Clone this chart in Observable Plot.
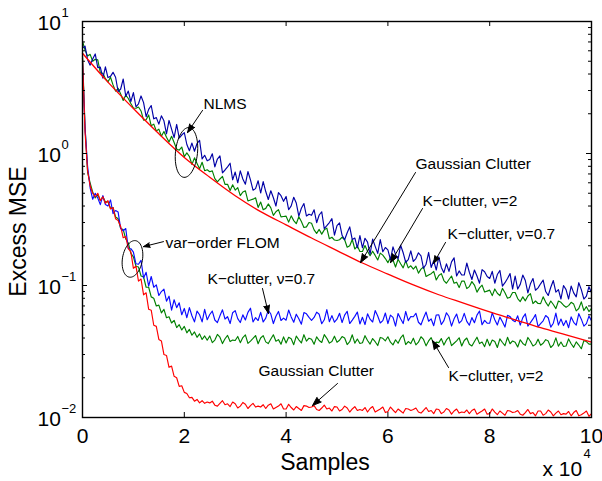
<!DOCTYPE html>
<html>
<head>
<meta charset="utf-8">
<script src="https://cdn.jsdelivr.net/npm/d3@7"></script>
<script src="https://cdn.jsdelivr.net/npm/@observablehq/plot@0.6"></script>
<style>
  html, body { margin: 0; padding: 0; background: #fff; }
  #chart svg { display: block; }
</style>
</head>
<body>
<div id="chart"></div>
<script>
// ---------- data (x in units of 10^4 samples, y = excess MSE) ----------
const sampleStep = 0.05;      // spacing of the noisy learning curves
const smoothStep = 0.5;       // spacing of the smooth NLMS Gaussian curve

const nlmsGaussian = [5.75, 3.47, 2.19, 1.41, 0.933, 0.661, 0.479, 0.363, 0.288, 0.229, 0.184,
  0.148, 0.122, 0.101, 0.0851, 0.0733, 0.0631, 0.0550, 0.0479, 0.0422, 0.0372];

const nlmsK07 = [
  6.3, 6.51, 5.14, 4.67, 5.2, 5.68, 4.47, 4.51, 3.72, 4.53,
  3.76, 3.84, 4.12, 3.78, 2.94, 3.08, 3.67, 2.71, 2.97, 2.47,
  2.89, 2.26, 2.38, 2.73, 2.43, 1.9, 2.16, 2.31, 1.83, 1.87,
  1.67, 1.93, 1.77, 1.41, 1.78, 1.53, 1.32, 1.66, 1.31, 1.38,
  1.44, 1.17, 1.05, 1.2, 1.04, 1.19, 1.26, 0.91, 0.97, 0.88,
  0.902, 0.996, 0.792, 0.908, 0.959, 0.714, 0.75, 0.791, 0.844, 0.632,
  0.724, 0.6, 0.739, 0.641, 0.585, 0.73, 0.632, 0.527, 0.542, 0.622,
  0.502, 0.612, 0.515, 0.448, 0.522, 0.462, 0.4, 0.505, 0.479, 0.434,
  0.473, 0.375, 0.401, 0.466, 0.421, 0.335, 0.385, 0.418, 0.336, 0.347,
  0.34, 0.375, 0.299, 0.342, 0.362, 0.27, 0.284, 0.3, 0.321, 0.241,
  0.284, 0.298, 0.24, 0.222, 0.251, 0.278, 0.223, 0.229, 0.193, 0.239,
  0.193, 0.228, 0.213, 0.173, 0.225, 0.198, 0.175, 0.223, 0.18, 0.194,
  0.186, 0.157, 0.196, 0.172, 0.159, 0.202, 0.177, 0.15, 0.157, 0.183,
  0.152, 0.16, 0.177, 0.168, 0.135, 0.145, 0.178, 0.137, 0.154, 0.131,
  0.165, 0.137, 0.125, 0.146, 0.128, 0.151, 0.162, 0.118, 0.129, 0.12,
  0.12, 0.148, 0.126, 0.111, 0.131, 0.118, 0.104, 0.132, 0.127, 0.117,
  0.113, 0.128, 0.104, 0.121, 0.13, 0.099, 0.105, 0.113, 0.123, 0.094,
  0.118, 0.094, 0.102, 0.12, 0.109, 0.088, 0.103, 0.113, 0.092, 0.096,
  0.103, 0.11, 0.09, 0.084, 0.097, 0.109, 0.089, 0.093, 0.079, 0.1,
  0.093, 0.079, 0.099, 0.088, 0.082, 0.105, 0.093, 0.079, 0.083, 0.098,
  0.088];

const nlmsK2 = [
  7.11, 6.08, 5.47, 5.64, 5.0, 5.17, 5.12, 4.09, 4.05, 3.69,
  3.49, 3.78, 3.31, 2.97, 3.12, 2.82, 2.52, 2.77, 2.61, 2.39,
  2.21, 2.2, 2.25, 2.1, 1.79, 1.8, 1.96, 1.62, 1.67, 1.48,
  1.53, 1.35, 1.47, 1.33, 1.22, 1.35, 1.21, 1.08, 1.06, 1.12,
  0.945, 1.01, 0.949, 0.826, 0.927, 0.841, 0.767, 0.858, 0.741, 0.753,
  0.728, 0.739, 0.645, 0.609, 0.641, 0.671, 0.584, 0.584, 0.524, 0.58,
  0.528, 0.551, 0.48, 0.511, 0.521, 0.437, 0.444, 0.451, 0.462, 0.39,
  0.429, 0.375, 0.384, 0.415, 0.387, 0.34, 0.362, 0.376, 0.331, 0.333,
  0.335, 0.302, 0.337, 0.31, 0.294, 0.332, 0.305, 0.275, 0.278, 0.3,
  0.296, 0.264, 0.248, 0.266, 0.245, 0.264, 0.272, 0.226, 0.232, 0.221,
  0.219, 0.222, 0.232, 0.222, 0.195, 0.2, 0.223, 0.189, 0.199, 0.181,
  0.181, 0.201, 0.182, 0.168, 0.182, 0.169, 0.156, 0.176, 0.17, 0.16,
  0.149, 0.162, 0.156, 0.138, 0.158, 0.146, 0.136, 0.154, 0.136, 0.141,
  0.133, 0.14, 0.124, 0.133, 0.138, 0.117, 0.12, 0.123, 0.128, 0.11,
  0.119, 0.123, 0.109, 0.104, 0.111, 0.118, 0.104, 0.106, 0.0964, 0.108,
  0.108, 0.0948, 0.0981, 0.107, 0.1008, 0.0891, 0.096, 0.1006, 0.0893, 0.0907,
  0.0922, 0.0838, 0.0942, 0.0874, 0.0837, 0.0952, 0.0881, 0.0801, 0.0816, 0.0885,
  0.0885, 0.0797, 0.0756, 0.082, 0.0765, 0.0833, 0.0869, 0.073, 0.0763, 0.0731,
  0.0729, 0.082, 0.0749, 0.0699, 0.0763, 0.0718, 0.0668, 0.0763, 0.0746, 0.0709,
  0.0685, 0.0704, 0.0746, 0.0723, 0.0642, 0.0669, 0.0752, 0.0646, 0.0691, 0.0635,
  0.067];

const flomGaussian = [
  5.3, 1.45, 0.74, 0.57, 0.5, 0.47, 0.5, 0.44, 0.47, 0.42,
  0.44, 0.38, 0.39, 0.32, 0.31, 0.28, 0.23, 0.235, 0.19, 0.18,
  0.135, 0.14, 0.108, 0.112, 0.085, 0.088, 0.066, 0.065, 0.05, 0.049,
  0.039, 0.038, 0.03, 0.0295, 0.024, 0.0245, 0.0205, 0.02, 0.0172, 0.0174,
  0.0155, 0.0152, 0.0141, 0.0142, 0.0133, 0.0137, 0.0129, 0.0134, 0.0128, 0.0131,
  0.0129, 0.0133, 0.0124, 0.0122, 0.0128, 0.0134, 0.0125, 0.0127, 0.0121, 0.0131,
  0.0127, 0.0118, 0.0122, 0.013, 0.0126, 0.0117, 0.0123, 0.0128, 0.012, 0.0122,
  0.012, 0.0125, 0.0117, 0.0124, 0.0127, 0.0116, 0.0119, 0.0122, 0.0127, 0.0116,
  0.0116, 0.0126, 0.0119, 0.0114, 0.0121, 0.0117, 0.0113, 0.0123, 0.0122, 0.0119,
  0.012, 0.0123, 0.0115, 0.0113, 0.0118, 0.0124, 0.0116, 0.0118, 0.0112, 0.0121,
  0.012, 0.0112, 0.0115, 0.0122, 0.0118, 0.011, 0.0116, 0.0121, 0.0113, 0.0115,
  0.0113, 0.0119, 0.011, 0.0117, 0.0121, 0.011, 0.0113, 0.0116, 0.012, 0.0109,
  0.0111, 0.012, 0.0114, 0.0109, 0.0116, 0.0112, 0.0108, 0.0117, 0.0116, 0.0113,
  0.0115, 0.0118, 0.011, 0.0108, 0.0113, 0.0119, 0.0111, 0.0113, 0.0107, 0.0116,
  0.0115, 0.0107, 0.011, 0.0117, 0.0114, 0.0106, 0.0112, 0.0116, 0.0108, 0.011,
  0.0109, 0.0114, 0.0107, 0.0113, 0.0116, 0.0106, 0.0109, 0.0112, 0.0116, 0.0106,
  0.0107, 0.0116, 0.011, 0.0105, 0.0112, 0.0108, 0.0104, 0.0113, 0.0112, 0.0109,
  0.011, 0.0113, 0.0106, 0.0104, 0.0109, 0.0115, 0.0107, 0.0109, 0.0103, 0.0112,
  0.0112, 0.0104, 0.0107, 0.0114, 0.011, 0.0103, 0.0108, 0.0112, 0.0105, 0.0107,
  0.0106, 0.0111, 0.0103, 0.0109, 0.0113, 0.0103, 0.0105, 0.0108, 0.0112, 0.0102,
  0.0107];

const flomK2 = [
  5.5, 1.6, 0.72, 0.6, 0.51, 0.46, 0.49, 0.44, 0.47, 0.43,
  0.43, 0.385, 0.39, 0.33, 0.32, 0.27, 0.265, 0.225, 0.21, 0.175,
  0.165, 0.14, 0.138, 0.118, 0.116, 0.097, 0.097, 0.082, 0.08, 0.07,
  0.071, 0.062, 0.066, 0.057, 0.058, 0.052, 0.0545, 0.048, 0.0505, 0.046,
  0.049, 0.0438, 0.0465, 0.042, 0.0445, 0.0405, 0.043, 0.039, 0.0415, 0.0385,
  0.0415, 0.0369, 0.0386, 0.0426, 0.0406, 0.0363, 0.0395, 0.0419, 0.0376, 0.0386,
  0.0383, 0.0411, 0.0369, 0.0403, 0.0422, 0.0364, 0.0379, 0.0397, 0.0418, 0.0362,
  0.04, 0.0417, 0.0374, 0.0363, 0.0393, 0.0423, 0.0378, 0.0389, 0.0359, 0.0408,
  0.0367, 0.0405, 0.0395, 0.0356, 0.0414, 0.0388, 0.0367, 0.0424, 0.0379, 0.0399,
  0.0391, 0.0359, 0.0408, 0.0383, 0.037, 0.0425, 0.0398, 0.0366, 0.0377, 0.0413,
  0.0372, 0.0385, 0.041, 0.04, 0.0357, 0.0375, 0.0423, 0.0366, 0.0393, 0.0364,
  0.0368, 0.0417, 0.0383, 0.036, 0.0396, 0.0375, 0.0351, 0.0404, 0.0398, 0.0381,
  0.0409, 0.0372, 0.0355, 0.0388, 0.0365, 0.0401, 0.0422, 0.0357, 0.0376, 0.0363,
  0.0399, 0.0355, 0.0372, 0.0409, 0.039, 0.0349, 0.038, 0.0403, 0.0361, 0.0372,
  0.0369, 0.0396, 0.0354, 0.0387, 0.0406, 0.035, 0.0365, 0.0381, 0.0402, 0.0348,
  0.0383, 0.04, 0.0359, 0.0348, 0.0377, 0.0406, 0.0363, 0.0373, 0.0344, 0.0392,
  0.035, 0.0386, 0.0376, 0.0339, 0.0394, 0.037, 0.035, 0.0405, 0.0362, 0.038,
  0.0372, 0.0342, 0.0388, 0.0364, 0.0352, 0.0404, 0.0378, 0.0348, 0.0358, 0.0392,
  0.0353, 0.0365, 0.0389, 0.0379, 0.0339, 0.0355, 0.0401, 0.0347, 0.0373, 0.0345,
  0.0348, 0.0394, 0.0362, 0.034, 0.0374, 0.0354, 0.0332, 0.0382, 0.0376, 0.036,
  0.036];

const flomK07 = [
  5.0, 1.55, 0.8, 0.55, 0.45, 0.5, 0.46, 0.41, 0.48, 0.41,
  0.4, 0.445, 0.35, 0.37, 0.36, 0.27, 0.26, 0.27, 0.19, 0.19,
  0.179, 0.146, 0.145, 0.155, 0.114, 0.126, 0.099, 0.117, 0.097, 0.101,
  0.084, 0.09, 0.094, 0.076, 0.083, 0.065, 0.078, 0.068, 0.074, 0.06,
  0.067, 0.057, 0.068, 0.059, 0.053, 0.064, 0.06, 0.053, 0.066, 0.055,
  0.0603, 0.064, 0.0548, 0.0524, 0.0589, 0.0654, 0.0557, 0.058, 0.0515, 0.0622,
  0.0645, 0.0561, 0.0524, 0.0599, 0.0548, 0.0626, 0.0673, 0.0529, 0.0571, 0.0543,
  0.0626, 0.0529, 0.0566, 0.065, 0.0608, 0.0515, 0.0585, 0.0636, 0.0543, 0.0566,
  0.0546, 0.0652, 0.0578, 0.0527, 0.0606, 0.056, 0.0509, 0.0624, 0.061, 0.0573,
  0.0545, 0.0573, 0.0628, 0.0605, 0.0513, 0.055, 0.0656, 0.0532, 0.0591, 0.0527,
  0.0556, 0.0616, 0.0524, 0.0597, 0.0638, 0.0515, 0.0547, 0.0584, 0.0629, 0.0511,
  0.0574, 0.0506, 0.061, 0.0556, 0.0529, 0.0646, 0.0588, 0.052, 0.0542, 0.0619,
  0.0515, 0.0596, 0.0573, 0.0493, 0.0614, 0.056, 0.0515, 0.0636, 0.0542, 0.0582,
  0.058, 0.0616, 0.0527, 0.0504, 0.0567, 0.0629, 0.0536, 0.0558, 0.0496, 0.0598,
  0.0599, 0.0506, 0.0542, 0.0622, 0.0582, 0.0493, 0.0559, 0.0608, 0.0519, 0.0542,
  0.0615, 0.0535, 0.05, 0.0571, 0.0522, 0.0597, 0.0641, 0.0504, 0.0544, 0.0518,
  0.0519, 0.062, 0.055, 0.0502, 0.0576, 0.0532, 0.0484, 0.0594, 0.0581, 0.0546,
  0.0532, 0.0589, 0.0501, 0.0571, 0.061, 0.0493, 0.0523, 0.0558, 0.0602, 0.0488,
  0.0514, 0.054, 0.0592, 0.057, 0.0484, 0.0518, 0.0618, 0.0501, 0.0557, 0.0497,
  0.0544, 0.0479, 0.0578, 0.0526, 0.0501, 0.0612, 0.0556, 0.0492, 0.0514, 0.0586,
  0.054];

const xTicks = [0, 2, 4, 6, 8, 10];
const yDecades = [0.01, 0.1, 1, 10];
const yExponents = ["\u22122", "\u22121", "0", "1"];

// annotation texts and their anchor points (data coordinates)
const noteText = ["NLMS", "Gaussian Clutter", "K\u2212clutter, \u03bd=2", "K\u2212clutter, \u03bd=0.7",
  "var\u2212order FLOM", "K\u2212clutter, \u03bd=0.7", "K\u2212clutter, \u03bd=2", "Gaussian Clutter"];
const noteX = [2.377, 6.542, 6.680, 7.171, 1.631, 2.456, 7.191, 3.458];
const noteY = [2.19, 0.757, 0.397, 0.227, 0.194, 0.1035, 0.01875, 0.0205];
// arrows: start (x1,y1) -> tip (x2,y2)
const arrowX1 = [2.358, 6.542, 6.680, 7.132, 1.591, 3.536, 7.191, 5.01];
const arrowY1 = [2.12, 0.718, 0.383, 0.212, 0.215, 0.0949, 0.0239, 0.0181];
const arrowX2 = [2.063, 5.462, 6.051, 6.896, 1.198, 3.654, 6.876, 4.519];
const arrowY2 = [1.44, 0.149, 0.149, 0.147, 0.197, 0.0614, 0.0383, 0.01233];
// ellipses marking the two groups of curves
const ringX = [2.043, 0.982];
const ringY = [1.018, 0.159];

// ---------- layout ----------
const W = 602, H = 481;
const mL = 82, mR = 11, mT = 21, mB = 64;
const plotW = W - mL - mR, plotH = H - mT - mB;
const xPerPx = 10 / plotW;
const decadesPerPx = 3 / plotH;
const FONT = "'Liberation Sans', Arial, Helvetica, sans-serif";

const asPoints = (vals, dx) => vals.map((v, i) => ({x: i * dx, y: v}));

const yMinor = [];
for (const d of [0.01, 0.1, 1]) for (let k = 2; k <= 9; k++) yMinor.push(d * k);

const majorLen = 5, minorLen = 3;
const yTickUp = (px) => Math.pow(10, px * decadesPerPx);

const notes = noteText.map((t, i) => ({t, x: noteX[i], y: noteY[i]}));
const arrows = arrowX1.map((_, i) => ({x1: arrowX1[i], y1: arrowY1[i], x2: arrowX2[i], y2: arrowY2[i]}));

function ellipseSymbol(rx, ry, deg) {
  const a = deg * Math.PI / 180;
  return {
    draw(ctx) {
      const n = 60;
      for (let k = 0; k <= n; k++) {
        const t = 2 * Math.PI * k / n;
        const ex = rx * Math.cos(t), ey = ry * Math.sin(t);
        const px = ex * Math.cos(a) - ey * Math.sin(a);
        const py = ex * Math.sin(a) + ey * Math.cos(a);
        if (k === 0) ctx.moveTo(px, py); else ctx.lineTo(px, py);
      }
      ctx.closePath();
    }
  };
}

const C = {
  nlmsBlue: "#0000a6",
  flomBlue: "#0a0aff",
  green: "#008000",
  red: "#ff0000"
};

const lineOpts = (color) => ({x: "x", y: "y", stroke: color, strokeWidth: 1.15, strokeLinejoin: "round"});

const chart = Plot.plot({
  width: W,
  height: H,
  marginLeft: mL,
  marginRight: mR,
  marginTop: mT,
  marginBottom: mB,
  style: {fontFamily: FONT, background: "#fff", color: "#000", overflow: "visible"},
  x: {domain: [0, 10], axis: null},
  y: {type: "log", domain: [0.01, 10], axis: null},
  marks: [
    // curves
    Plot.line(asPoints(flomK2, sampleStep), lineOpts(C.green)),
    Plot.line(asPoints(flomK07, sampleStep), lineOpts(C.flomBlue)),
    Plot.line(asPoints(nlmsK2, sampleStep), lineOpts(C.green)),
    Plot.line(asPoints(nlmsK07, sampleStep), lineOpts(C.nlmsBlue)),
    Plot.line(asPoints(nlmsGaussian, smoothStep), {...lineOpts(C.red), curve: "monotone-x", strokeWidth: 1.3}),
    Plot.line(asPoints(flomGaussian, sampleStep), lineOpts(C.red)),

    // inward ticks: left / right (major and minor), bottom / top
    Plot.ruleY(yDecades, {y: d => d, x1: 0, x2: majorLen * xPerPx, stroke: "#000", strokeWidth: 1}),
    Plot.ruleY(yDecades, {y: d => d, x1: 10 - majorLen * xPerPx, x2: 10, stroke: "#000", strokeWidth: 1}),
    Plot.ruleY(yMinor, {y: d => d, x1: 0, x2: minorLen * xPerPx, stroke: "#000", strokeWidth: 1}),
    Plot.ruleY(yMinor, {y: d => d, x1: 10 - minorLen * xPerPx, x2: 10, stroke: "#000", strokeWidth: 1}),
    Plot.ruleX(xTicks, {x: d => d, y1: 0.01, y2: 0.01 * yTickUp(majorLen), stroke: "#000", strokeWidth: 1}),
    Plot.ruleX(xTicks, {x: d => d, y1: 10 / yTickUp(majorLen), y2: 10, stroke: "#000", strokeWidth: 1}),
    Plot.frame({stroke: "#000", strokeWidth: 1.4}),

    // tick labels
    Plot.text(xTicks, {x: d => d, y: 0.01, text: d => String(d), dy: 25, lineAnchor: "bottom", fontSize: 21, fill: "#000"}),
    Plot.text(yDecades, {x: 0, y: d => d, text: () => "10", dx: -45, dy: 2, textAnchor: "start", lineAnchor: "middle", fontSize: 21, fill: "#000"}),
    Plot.text(yDecades, {x: 0, y: d => d, text: (d, i) => yExponents[i], dx: -21, dy: -9, textAnchor: "start", lineAnchor: "middle", fontSize: 13, fill: "#000"}),
    Plot.text(["x 10"], {frameAnchor: "bottom-right", dx: -49, dy: 58, textAnchor: "start", lineAnchor: "bottom", fontSize: 21, fill: "#000"}),
    Plot.text(["4"], {frameAnchor: "bottom-right", dx: -8, dy: 36, textAnchor: "start", lineAnchor: "middle", fontSize: 13, fill: "#000"}),

    // axis titles
    Plot.text(["Samples"], {frameAnchor: "bottom", dx: -12, dy: 52, textAnchor: "middle", lineAnchor: "bottom", fontSize: 23, fill: "#000"}),
    Plot.text(["Excess MSE"], {frameAnchor: "left", dx: -64, dy: 12, rotate: -90, textAnchor: "middle", lineAnchor: "middle", fontSize: 23, fill: "#000"}),

    // annotations
    Plot.dot([{x: ringX[0], y: ringY[0]}], {x: "x", y: "y", r: 10, symbol: ellipseSymbol(11, 25, 6), stroke: "#000", fill: "none", strokeWidth: 1}),
    Plot.dot([{x: ringX[1], y: ringY[1]}], {x: "x", y: "y", r: 10, symbol: ellipseSymbol(10, 18.5, 10), stroke: "#000", fill: "none", strokeWidth: 1}),
    Plot.arrow(arrows, {x1: "x1", y1: "y1", x2: "x2", y2: "y2", stroke: "#000", fill: "#000", strokeWidth: 1, headLength: 14, headAngle: 40}),
    Plot.text(notes, {x: "x", y: "y", text: "t", textAnchor: "start", lineAnchor: "bottom", fontSize: 15.5, fill: "#000"})
  ]
});

document.getElementById("chart").appendChild(chart);
</script>
</body>
</html>
